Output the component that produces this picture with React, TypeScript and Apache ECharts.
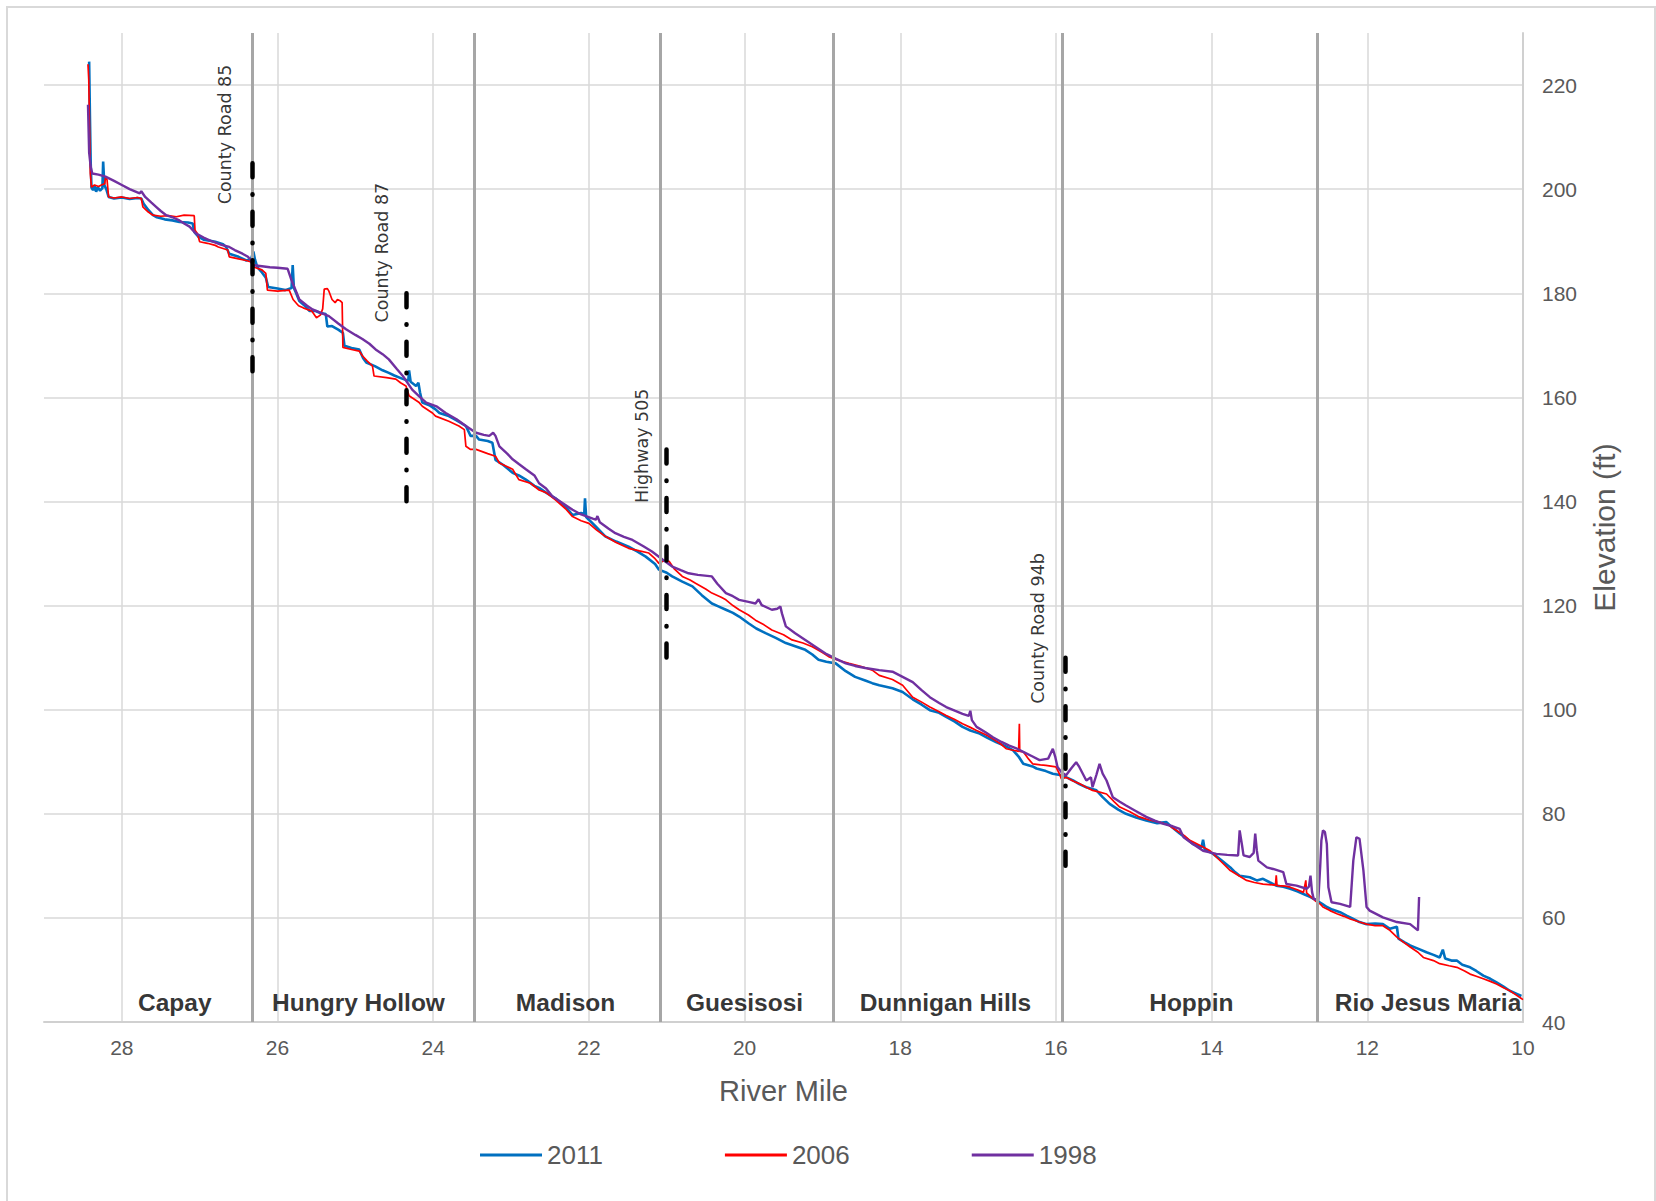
import React, { useEffect, useRef } from "react";
import * as echarts from "echarts";

const years = ["2011", "2006", "1998"];
const lineColors = ["#0070C0", "#FF0000", "#7030A0"];

const elev2011: [number, number][] = [
  [28.42,224.5],[28.41,214],[28.40,205],[28.39,200.3],[28.37,199.8],[28.35,200.6],[28.33,199.5],[28.31,200.4],[28.28,199.7],[28.25,200.2],[28.24,205.3],[28.225,200.8],[28.20,200],[28.17,198.5],[28.1,198.2],[28.0,198.4],[27.9,198.1],[27.8,198.3],[27.75,198.2],[27.72,197.2],[27.66,196],[27.6,195],[27.55,194.6],[27.45,194.2],[27.35,194],[27.26,193.7],[27.15,193.6],[27.09,193.4],[27.07,191.8],[27.02,190.9],[26.95,190.3],[26.8,189.9],[26.7,189.4],[26.66,188.9],[26.62,187.6],[26.5,187],[26.40,186.3],[26.34,186.6],[26.31,188],[26.29,186.5],[26.26,185],[26.2,184],[26.15,183],[26.12,181.2],[26.0,180.9],[25.9,180.6],[25.82,181],[25.805,185.4],[25.79,181],[25.76,180],[25.72,178.5],[25.65,177.6],[25.59,176.6],[25.51,176.6],[25.45,176.2],[25.38,176],[25.36,173.6],[25.3,173.7],[25.22,173],[25.16,172.4],[25.14,169.9],[25.05,169.5],[24.95,169.2],[24.9,167.5],[24.86,166.7],[24.75,166],[24.65,165.2],[24.57,164.7],[24.5,164.2],[24.4,163.6],[24.32,163.2],[24.31,165.2],[24.29,163],[24.22,162.2],[24.19,162.8],[24.17,161],[24.14,159],[24.05,158.5],[23.97,157.7],[23.92,157],[23.8,156.4],[23.7,155.6],[23.58,154.5],[23.52,152.6],[23.45,152.6],[23.41,151.9],[23.3,151.6],[23.24,151.3],[23.2,148],[23.1,147],[22.98,145.5],[22.9,145],[22.81,144.2],[22.7,143],[22.64,142.6],[22.55,141.7],[22.43,140.6],[22.3,139],[22.21,137.4],[22.1,137.8],[22.06,137.6],[22.05,140.6],[22.035,137],[22.0,136.5],[21.9,135],[21.79,133.3],[21.65,132.3],[21.49,131.3],[21.38,130.4],[21.27,129.4],[21.15,128],[21.10,126.9],[21.0,126.3],[20.93,125.6],[20.8,124.6],[20.67,123.7],[20.55,122],[20.42,120.4],[20.33,119.8],[20.24,119.2],[20.15,118.6],[20.07,117.9],[19.95,116.6],[19.85,115.6],[19.73,114.7],[19.6,113.8],[19.47,112.8],[19.35,112.2],[19.22,111.5],[19.13,110.6],[19.05,109.6],[18.95,109.2],[18.83,108.9],[18.7,107.4],[18.58,106.3],[18.45,105.6],[18.36,105.1],[18.27,104.7],[18.1,104.1],[17.97,103.4],[17.84,102],[17.73,101],[17.62,99.9],[17.5,99.4],[17.41,98.6],[17.3,97.7],[17.2,96.7],[17.1,96],[16.98,95.4],[16.88,94.6],[16.77,93.8],[16.65,93],[16.55,92.2],[16.48,91],[16.42,89.6],[16.3,89.1],[16.25,88.7],[16.13,88.2],[16.04,87.7],[15.93,87.4],[15.85,86.9],[15.78,86.4],[15.7,85.7],[15.61,85.1],[15.48,84.5],[15.4,83.2],[15.31,81.9],[15.2,80.8],[15.1,80],[14.97,79.3],[14.84,78.7],[14.7,78.2],[14.58,78.4],[14.5,77.3],[14.41,76.2],[14.32,75.2],[14.24,74.2],[14.13,73.5],[14.11,75],[14.09,73.2],[13.98,72.3],[13.87,71],[13.76,69.7],[13.7,68.8],[13.64,68.1],[13.51,67.8],[13.42,67.2],[13.34,67.5],[13.25,66.8],[13.17,66.2],[13.08,66],[12.99,65.6],[12.9,65.1],[12.82,64.6],[12.73,64],[12.65,63.3],[12.58,62.7],[12.52,62.1],[12.45,61.6],[12.35,61.1],[12.26,60.4],[12.18,59.8],[12.1,59.2],[12.01,58.8],[11.9,58.9],[11.8,58.8],[11.71,57.9],[11.62,58.3],[11.6,56],[11.52,55.3],[11.45,54.7],[11.35,54.1],[11.24,53.4],[11.15,52.9],[11.07,52.4],[11.03,53.9],[11.0,52.2],[10.92,51.8],[10.85,51.8],[10.78,51],[10.68,50.5],[10.6,49.8],[10.51,48.9],[10.42,48.3],[10.34,47.6],[10.25,46.8],[10.17,46],[10.08,45.4],[10.02,45]
];

const elev2006: [number, number][] = [
  [28.435,224],[28.425,221],[28.415,212],[28.405,203],[28.39,200.4],[28.35,200.8],[28.3,200.5],[28.25,200.9],[28.22,201],[28.21,202.2],[28.19,201.8],[28.17,198.5],[28.1,198.3],[28.0,198.5],[27.9,198.2],[27.8,198.4],[27.75,198.2],[27.73,196.6],[27.66,195.6],[27.6,195],[27.5,194.8],[27.4,194.9],[27.3,194.7],[27.2,195],[27.07,194.9],[27.06,192.1],[27.03,191.5],[27.0,189.9],[26.9,189.6],[26.8,189.2],[26.76,188.9],[26.64,188.3],[26.62,187],[26.5,186.6],[26.4,186.3],[26.34,186],[26.30,185],[26.2,184.5],[26.15,183.8],[26.13,180.6],[26.0,180.4],[25.85,180.6],[25.8,178.8],[25.73,177.6],[25.67,177.2],[25.6,176.8],[25.56,176.6],[25.5,175.3],[25.45,175.8],[25.42,177],[25.40,180.8],[25.36,180.9],[25.34,180.4],[25.30,178.8],[25.26,178.2],[25.23,178.8],[25.19,178.5],[25.17,178.2],[25.16,169.6],[25.05,169.2],[24.95,168.9],[24.91,168],[24.85,167],[24.78,166],[24.76,164.1],[24.6,163.8],[24.48,163.5],[24.42,162.8],[24.35,162.2],[24.31,160.3],[24.18,159],[24.14,158.3],[24.01,157],[23.97,156.4],[23.8,155.4],[23.67,154.5],[23.6,153.8],[23.58,150.6],[23.52,150],[23.45,150],[23.3,149.2],[23.2,148.7],[23.15,147.4],[22.98,146.2],[22.9,144.2],[22.75,143.5],[22.64,142.2],[22.55,141.7],[22.43,140.3],[22.3,138.6],[22.21,137.1],[22.1,136.3],[22.0,135.8],[21.9,134.5],[21.79,133.3],[21.65,132.1],[21.49,131],[21.35,130.5],[21.23,130.1],[21.15,129],[21.10,128.1],[21.04,128.6],[20.97,128.5],[20.9,127],[20.80,125.6],[20.7,124.9],[20.63,124.3],[20.5,123.2],[20.42,122.4],[20.3,121.6],[20.24,121.1],[20.15,120],[20.07,119.2],[19.95,118.2],[19.86,117.2],[19.75,116.3],[19.65,115.3],[19.5,114.4],[19.39,113.4],[19.25,112.8],[19.13,112.1],[19.0,111],[18.92,110.2],[18.8,109.5],[18.66,108.9],[18.5,108.3],[18.36,107.6],[18.27,106.6],[18.1,105.8],[17.97,104.7],[17.84,102.4],[17.73,101.5],[17.62,100.5],[17.5,99.6],[17.41,98.9],[17.3,98.1],[17.2,97.3],[17.1,96.6],[17.02,96],[16.9,95.2],[16.81,94.4],[16.7,93.3],[16.64,92.5],[16.55,92.2],[16.48,92],[16.47,97.3],[16.465,92],[16.42,91.9],[16.35,90.5],[16.30,89.6],[16.2,89.4],[16.13,89.3],[16.0,89],[15.95,87.5],[15.93,86.7],[15.87,87],[15.78,86.3],[15.70,85.8],[15.6,85],[15.53,84.5],[15.45,84.2],[15.35,83.8],[15.25,82.3],[15.18,81.3],[15.05,80.4],[14.93,79.4],[14.8,78.8],[14.67,78.4],[14.55,77.8],[14.45,76.8],[14.35,75.8],[14.28,74.9],[14.11,73.6],[14.02,72.9],[13.94,71.7],[13.85,70.4],[13.76,69.1],[13.65,68.1],[13.55,67.2],[13.45,66.8],[13.34,66.5],[13.18,66.3],[13.17,68.2],[13.16,66.2],[13.05,66.1],[12.99,65.9],[12.9,65.4],[12.82,64.9],[12.79,67.2],[12.78,64.8],[12.67,63.3],[12.6,62.6],[12.57,62.1],[12.48,61.4],[12.39,60.8],[12.3,60.3],[12.22,59.8],[12.1,59.2],[12.01,58.8],[11.9,58.5],[11.80,58.5],[11.71,57.6],[11.62,56.3],[11.55,55.5],[11.45,54.4],[11.35,53.4],[11.28,52.4],[11.15,51.8],[11.07,51.2],[10.95,50.8],[10.85,50.5],[10.75,49.8],[10.68,49.2],[10.6,48.8],[10.51,48.3],[10.42,47.8],[10.34,47.3],[10.25,46.6],[10.17,46],[10.1,45.3],[10.04,44.7],[10.0,44.3]
];

const elev1998: [number, number][] = [
  [28.435,216.2],[28.42,207],[28.40,204.3],[28.38,203],[28.3,202.8],[28.21,202.4],[28.1,201.6],[28.0,200.8],[27.9,200],[27.77,199.2],[27.75,199.6],[27.7,198.5],[27.62,197.4],[27.56,196.6],[27.5,195.8],[27.43,195],[27.35,194.6],[27.26,194],[27.2,193.4],[27.13,192.8],[27.05,191.5],[26.95,190.7],[26.83,189.9],[26.72,189.3],[26.62,188.9],[26.55,188.3],[26.45,187.6],[26.38,187],[26.34,186.3],[26.32,185.4],[26.2,185.2],[26.1,185],[26.0,184.9],[25.87,184.7],[25.82,182.5],[25.72,178.8],[25.62,177.6],[25.55,176.9],[25.45,176.3],[25.34,175.6],[25.22,174.2],[25.12,173.1],[25.0,172],[24.91,171.2],[24.82,170.3],[24.74,169.2],[24.65,168.3],[24.57,167.3],[24.47,165.5],[24.39,164.1],[24.27,161.5],[24.18,160.2],[24.09,159],[23.95,158.2],[23.84,157],[23.7,155.8],[23.58,154.5],[23.45,153.2],[23.35,152.8],[23.28,152.6],[23.23,153.2],[23.20,152.6],[23.15,150.6],[23.05,149.2],[22.98,148.1],[22.9,147.2],[22.81,146.2],[22.7,145],[22.64,143.5],[22.55,142.5],[22.47,141],[22.35,139.8],[22.21,138.4],[22.1,137.5],[21.95,136.7],[21.91,136.5],[21.89,137.2],[21.86,136],[21.75,134.8],[21.66,133.9],[21.55,133.2],[21.44,132.6],[21.3,131.4],[21.19,130.4],[21.05,128.8],[20.93,127.5],[20.82,126.8],[20.72,126.2],[20.6,125.9],[20.42,125.6],[20.35,124.2],[20.24,122.4],[20.15,121.8],[20.07,121.1],[19.95,120.7],[19.86,120.4],[19.82,121.2],[19.78,120.1],[19.65,119.2],[19.58,119.4],[19.54,119.8],[19.52,118.5],[19.47,116],[19.35,114.7],[19.22,113.4],[19.1,112.2],[18.96,110.8],[18.83,109.8],[18.70,108.9],[18.58,108.4],[18.45,108],[18.27,107.6],[18.1,107.3],[17.97,106.3],[17.84,105.3],[17.73,103.8],[17.62,102.4],[17.5,101.3],[17.41,100.5],[17.3,99.8],[17.20,99.2],[17.12,98.8],[17.10,99.8],[17.08,98],[17.02,96.7],[16.9,95.6],[16.81,94.7],[16.7,93.8],[16.60,93.1],[16.5,92.5],[16.42,91.9],[16.3,91],[16.21,90.3],[16.10,90.6],[16.04,92.5],[16.01,91],[15.98,89],[15.93,88],[15.87,87.4],[15.80,88.8],[15.74,89.9],[15.70,89],[15.61,86.4],[15.55,87],[15.53,85.1],[15.48,87.5],[15.44,89.6],[15.40,87.7],[15.35,86.4],[15.27,83.2],[15.18,82.3],[15.10,81.6],[14.97,80.5],[14.84,79.4],[14.73,78.7],[14.63,78.1],[14.5,77.6],[14.41,77.1],[14.36,75.5],[14.25,74.3],[14.11,72.9],[13.94,72.3],[13.8,72.1],[13.66,72],[13.64,76.8],[13.61,74],[13.59,72],[13.51,71.7],[13.46,72.5],[13.44,76.2],[13.42,73],[13.40,71],[13.29,69.7],[13.21,69.4],[13.08,68.8],[13.04,66.5],[12.91,66.2],[12.78,65.6],[12.75,66],[12.73,68.1],[12.71,65],[12.69,63.7],[12.63,63.3],[12.605,70],[12.59,74.9],[12.57,76.8],[12.545,76.5],[12.52,74.2],[12.50,65.9],[12.46,63],[12.35,62.7],[12.22,62.1],[12.18,71],[12.14,75.5],[12.10,75.2],[12.05,69.1],[12.01,62.1],[11.97,61.4],[11.80,60.1],[11.62,59.2],[11.45,58.8],[11.35,57.6],[11.335,64]
];

const regionBoundaries = [26.33, 23.47, 21.08, 18.86, 15.92, 12.64];
const regionNames = ["Capay", "Hungry Hollow", "Madison", "Guesisosi", "Dunnigan Hills", "Hoppin", "Rio Jesus Maria"];
const regionLabelMiles = [27.32, 24.96, 22.3, 20.0, 17.42, 14.26, 11.22];
const regionLabelElev = 43.7;

const roadNames = ["County Road 85", "County Road 87", "Highway 505", "County Road 94b"];
const roadMiles = [26.33, 24.34, 21.0, 15.88];
const roadFrom = [165, 140, 110, 70];
const roadTo = [205, 180, 150, 110];
const roadLabelMiles = [26.68, 24.66, 21.32, 16.23];
const roadLabelElev = [210.5, 187.8, 150.7, 115.6];

const FONT = "Liberation Sans";
const GREY_TEXT = "#595959";

export default function App() {
  const ref = useRef<HTMLDivElement>(null);
  useEffect(() => {
    if (!ref.current) return;
    const chart = echarts.init(ref.current, null, { renderer: "svg" });
    const widths = [2.6, 1.7, 2.4];
    const dataSeries = [elev2011, elev2006, elev1998].map((d, i) => ({
      type: "line",
      name: years[i],
      data: d,
      symbol: "none",
      showSymbol: false,
      silent: true,
      z: 3,
      lineStyle: { color: lineColors[i], width: widths[i] },
      itemStyle: { color: lineColors[i] },
    }));
    const option: any = {
      animation: false,
      backgroundColor: "#ffffff",
      textStyle: { fontFamily: FONT },
      graphic: [
        {
          type: "rect",
          silent: true,
          z: -1,
          shape: { x: 7, y: 7, width: 1648, height: 1300 },
          style: { fill: "none", stroke: "#d9d9d9", lineWidth: 2 },
        },
      ],
      grid: { left: 44, right: 133, top: 33, bottom: 179, containLabel: false },
      legend: {
        data: years.map((y, i) => ({ name: y, icon: "rect", itemStyle: { color: lineColors[i] } })),
        left: 480,
        top: 1140,
        padding: 0,
        itemWidth: 62,
        itemHeight: 3,
        itemGap: 122,
        textStyle: { color: GREY_TEXT, fontSize: 26, fontFamily: FONT, lineHeight: 30 },
      },
      xAxis: {
        type: "value",
        min: 10,
        max: 29,
        interval: 2,
        inverse: true,
        name: "River Mile",
        nameLocation: "middle",
        nameGap: 54,
        nameTextStyle: { color: GREY_TEXT, fontSize: 29, fontFamily: FONT },
        axisLine: { show: true, onZero: false, lineStyle: { color: "#d0d0d0", width: 2 } },
        axisTick: { show: false },
        axisLabel: { color: GREY_TEXT, fontSize: 21, margin: 15, fontFamily: FONT, showMaxLabel: false },
        splitLine: { show: true, showMaxLine: false, lineStyle: { color: "#d9d9d9", width: 1.5 } },
      },
      yAxis: {
        type: "value",
        position: "right",
        min: 40,
        max: 230,
        interval: 20,
        name: "Elevation (ft)",
        nameLocation: "middle",
        nameRotate: 90,
        nameGap: 66,
        nameTextStyle: { color: GREY_TEXT, fontSize: 30, fontFamily: FONT },
        axisLine: { show: true, onZero: false, lineStyle: { color: "#d0d0d0", width: 2 } },
        axisTick: { show: false },
        axisLabel: { color: GREY_TEXT, fontSize: 21, margin: 19, fontFamily: FONT, showMaxLabel: false },
        splitLine: { show: true, showMaxLine: false, lineStyle: { color: "#d9d9d9", width: 1.5 } },
      },
      series: [
        {
          type: "line",
          name: "regionBoundaries",
          data: [],
          silent: true,
          z: 2,
          markLine: {
            silent: true,
            symbol: ["none", "none"],
            label: { show: false },
            lineStyle: { color: "#A6A6A6", width: 3, type: "solid" },
            data: regionBoundaries.map((v) => ({ xAxis: v })),
          },
        },
        ...dataSeries,
        {
          type: "line",
          name: "roads",
          data: [],
          silent: true,
          z: 5,
          markLine: {
            silent: true,
            symbol: ["none", "none"],
            label: { show: false },
            lineStyle: { color: "#000000", width: 4.5, type: [14, 17, 0.5, 17], cap: "round" },
            data: roadMiles.map((m, i) => [
              { coord: [m, roadTo[i]] },
              { coord: [m, roadFrom[i]] },
            ]),
          },
        },
        {
          type: "scatter",
          name: "roadLabels",
          silent: true,
          symbolSize: 1,
          itemStyle: { color: "rgba(0,0,0,0)" },
          z: 6,
          data: roadNames.map((n, i) => ({ name: n, value: [roadLabelMiles[i], roadLabelElev[i]] })),
          label: {
            show: true,
            position: "inside",
            rotate: 90,
            formatter: "{b}",
            color: "#000000",
            fontSize: 17.5,
            fontFamily: "DejaVu Sans",
          },
        },
        {
          type: "scatter",
          name: "regionLabels",
          silent: true,
          symbolSize: 1,
          itemStyle: { color: "rgba(0,0,0,0)" },
          z: 6,
          data: regionNames.map((n, i) => ({ name: n, value: [regionLabelMiles[i], regionLabelElev] })),
          label: {
            show: true,
            position: "inside",
            formatter: "{b}",
            color: "#000000",
            fontSize: 24.5,
            fontWeight: "bold",
            fontFamily: FONT,
          },
        },
      ],
    };
    chart.setOption(option);
    return () => chart.dispose();
  }, []);
  return (
    <div
      ref={ref}
      style={{ position: "absolute", left: 0, top: 0, width: 1656, height: 1201, background: "#fff" }}
    />
  );
}
